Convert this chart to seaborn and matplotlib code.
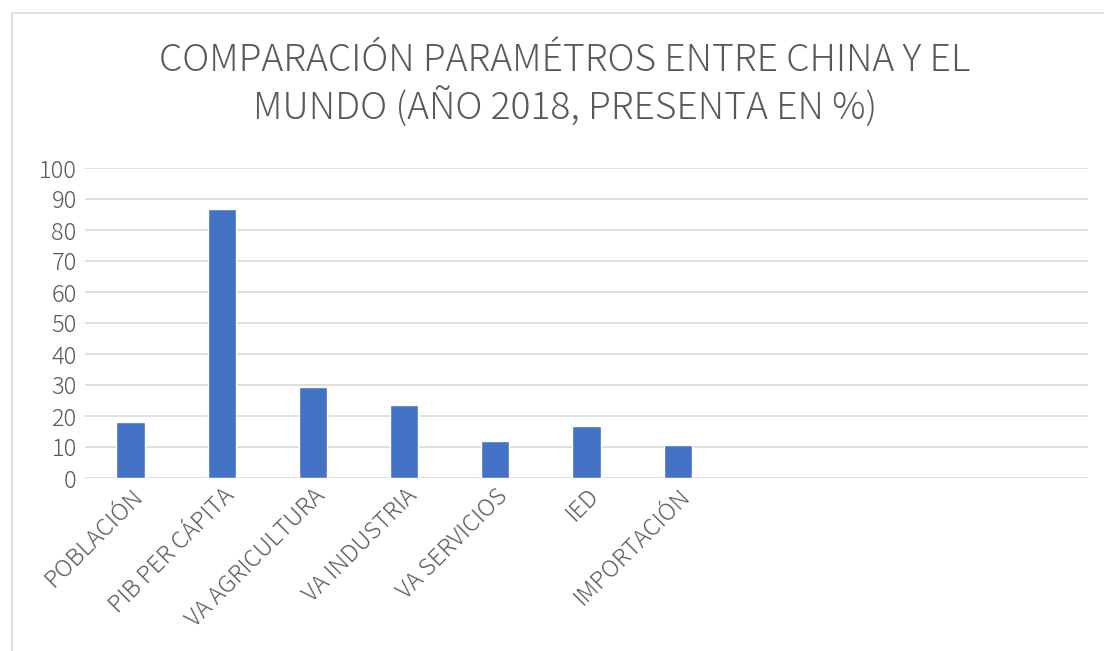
import pandas as pd
import matplotlib
matplotlib.use('Agg')
import matplotlib.pyplot as plt
import seaborn as sns
from matplotlib.patches import Rectangle

categorias = ['POBLACIÓN', 'PIB PER CÁPITA', 'VA AGRICULTURA', 'VA INDUSTRIA',
              'VA SERVICIOS', 'IED', 'IMPORTACIÓN']
valores = [18.2, 86.7, 29.3, 23.4, 11.8, 16.8, 10.5]
y_ticks = [0, 10, 20, 30, 40, 50, 60, 70, 80, 90, 100]
titulo = 'COMPARACIÓN PARAMÉTROS ENTRE CHINA Y EL\nMUNDO (AÑO 2018, PRESENTA EN %)'

data = pd.DataFrame({'categoria': categorias, 'valor': valores})

sns.set_style('white')
plt.rcParams['font.family'] = ['Noto Sans CJK JP', 'DejaVu Sans']
plt.rcParams['font.weight'] = 'light'

fig = plt.figure(figsize=(11.04, 6.51), dpi=100)
ax = fig.add_axes([85 / 1104, 1 - 478 / 651, (1088 - 85) / 1104, (478 - 168) / 651])

sns.barplot(x='categoria', y='valor', data=data, color='#4472c4', width=0.31,
            saturation=1, ax=ax, zorder=3)

ax.set_xlim(-0.5, 10.5)
ax.set_ylim(0, 100)
ax.set_yticks(y_ticks)
ax.yaxis.grid(True, color='#d9d9d9', linewidth=1.2, zorder=0)
ax.set_axisbelow(True)
for s in ax.spines.values():
    s.set_visible(False)
ax.set_xlabel('')
ax.set_ylabel('')
ax.tick_params(axis='y', length=0, labelsize=17, labelcolor='#595959', pad=6)
ax.tick_params(axis='x', length=0, labelsize=17, labelcolor='#595959', pad=4)
plt.setp(ax.get_xticklabels(), rotation=45, ha='right', rotation_mode='anchor')

fig.text(565 / 1104, 1 - 85 / 651, titulo, ha='center', va='center',
         fontsize=26.8, color='#595959', linespacing=1.22)

# marco del gráfico
fig.patches.append(Rectangle((12 / 1104, -0.1), 1.2, 1 - 13 / 651 + 0.1,
                             transform=fig.transFigure, fill=False,
                             edgecolor='#d9d9d9', linewidth=1.2))

fig.savefig('out.png', dpi=100)
